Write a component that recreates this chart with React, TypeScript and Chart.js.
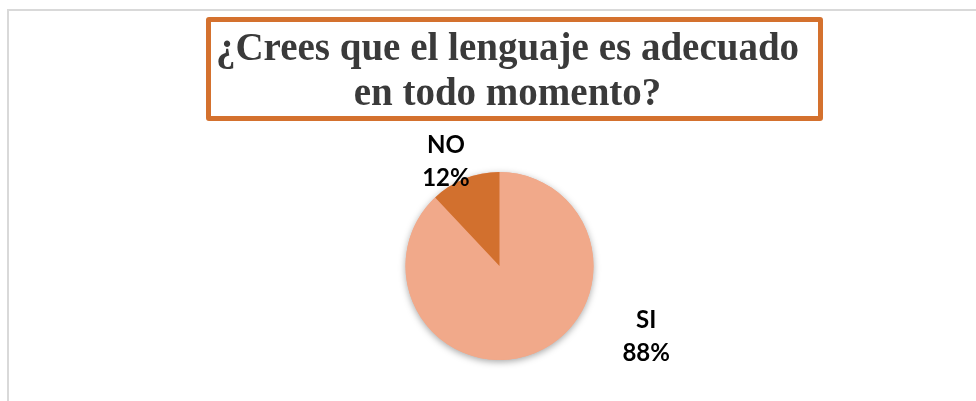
import React, { useEffect, useRef } from "react";
import { Chart, registerables } from "chart.js";

Chart.register(...registerables);

const TITLE_LINES = ["¿Crees que el lenguaje es adecuado", "en todo momento?"];
const CATEGORIES = ["SI", "NO"];
const VALUES = [88, 12];
const COLORS = ["#F1A98A", "#D2702E"];
// label block center offsets, in units of the pie radius
const LABEL_OFFSETS = [
  [1.56, 0.75],
  [-0.57, -1.106],
];

const shadowPlugin = {
  id: "pieShadow",
  beforeDatasetsDraw(chart: any) {
    const arc = chart.getDatasetMeta(0).data[0];
    if (!arc) return;
    const { x, y, outerRadius } = arc.getProps(["x", "y", "outerRadius"], true);
    const ctx = chart.ctx;
    ctx.save();
    ctx.shadowColor = "rgba(0,0,0,0.35)";
    ctx.shadowBlur = 7;
    ctx.shadowOffsetX = 0;
    ctx.shadowOffsetY = 2;
    ctx.beginPath();
    ctx.arc(x, y, outerRadius, 0, Math.PI * 2);
    ctx.fillStyle = COLORS[0];
    ctx.fill();
    ctx.restore();
  },
};

const labelPlugin = {
  id: "pieLabels",
  afterDatasetsDraw(chart: any) {
    const meta = chart.getDatasetMeta(0);
    const ctx = chart.ctx;
    const total = VALUES.reduce((a, b) => a + b, 0);
    ctx.save();
    ctx.font = "bold 24px Lato, 'Liberation Sans', sans-serif";
    ctx.fillStyle = "#000000";
    ctx.textAlign = "center";
    ctx.textBaseline = "middle";
    meta.data.forEach((arc: any, i: number) => {
      const { x, y, outerRadius } = arc.getProps(["x", "y", "outerRadius"], true);
      const cx = x + LABEL_OFFSETS[i][0] * outerRadius;
      const cy = y + LABEL_OFFSETS[i][1] * outerRadius;
      const pct = Math.round((VALUES[i] / total) * 100) + "%";
      ctx.fillText(CATEGORIES[i], cx, cy - 16.5);
      ctx.fillText(pct, cx, cy + 16.5);
    });
    ctx.restore();
  },
};

export default function App() {
  const ref = useRef<HTMLCanvasElement | null>(null);

  useEffect(() => {
    if (!ref.current) return;
    const chart = new Chart(ref.current, {
      type: "pie",
      data: {
        labels: CATEGORIES,
        datasets: [
          {
            data: VALUES,
            backgroundColor: COLORS,
            borderWidth: 0,
          },
        ],
      },
      options: {
        responsive: false,
        animation: false,
        devicePixelRatio: 1,
        layout: { padding: { top: 172, bottom: 41, left: 350, right: 327 } },
        plugins: {
          legend: { display: false },
          tooltip: { enabled: false },
          title: { display: false },
        },
      },
      plugins: [shadowPlugin, labelPlugin],
    });
    return () => chart.destroy();
  }, []);

  return (
    <div
      style={{
        position: "fixed",
        left: 0,
        top: 0,
        width: 976,
        height: 401,
        overflow: "hidden",
        background: "#ffffff",
      }}
    >
      <div
        style={{
          position: "absolute",
          left: 7,
          top: 9,
          width: 1100,
          height: 600,
          border: "2px solid #d9d9d9",
          boxSizing: "border-box",
        }}
      />
      <canvas
        ref={ref}
        width={976}
        height={401}
        style={{ position: "absolute", left: 0, top: 0, width: 976, height: 401 }}
      />
      <div
        style={{
          position: "absolute",
          left: 206,
          top: 17,
          width: 617,
          height: 104,
          border: "5px solid #D4712E",
          borderRadius: 3,
          boxSizing: "border-box",
          background: "#ffffff",
        }}
      >
        <div
          style={{
            position: "absolute",
            left: -14,
            right: 0,
            top: 2,
            textAlign: "center",
            fontFamily: "'Liberation Serif', 'Times New Roman', serif",
            fontWeight: "bold",
            fontSize: 39,
            lineHeight: "45px",
            color: "#3a3a3a",
            whiteSpace: "nowrap",
          }}
        >
          {TITLE_LINES.map((l, i) => (
            <div key={i}>{l}</div>
          ))}
        </div>
      </div>
    </div>
  );
}
